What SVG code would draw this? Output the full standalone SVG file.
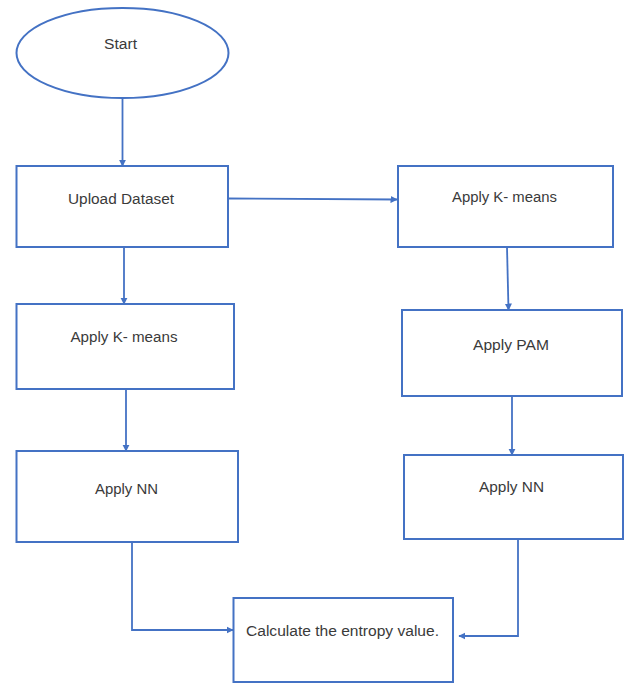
<svg xmlns="http://www.w3.org/2000/svg" width="626" height="683" viewBox="0 0 626 683">
<style>
.n{fill:#fff;stroke:#4472C4;stroke-width:2}
.t{font-family:"Liberation Sans",Arial,sans-serif;font-size:14px;fill:#3a3a3a;text-anchor:middle}
.c{fill:none;stroke:#4472C4;stroke-width:1.8}
</style>
<defs>
<marker id="a" viewBox="0 0 10 10" refX="9" refY="5" markerWidth="4" markerHeight="4" orient="auto" markerUnits="strokeWidth">
<path d="M0,0 L10,5 L0,10 z" fill="#4472C4"/>
</marker>
</defs>
<rect width="626" height="683" fill="#fff"/>
<g id="connectors">
<path class="c" d="M122.5,98 V166" marker-end="url(#a)"/>
<path class="c" d="M228,198.5 L397,199.5" marker-end="url(#a)"/>
<path class="c" d="M507,247 L508.5,310" marker-end="url(#a)"/>
<path class="c" d="M124,247 V304" marker-end="url(#a)"/>
<path class="c" d="M126,389 V451" marker-end="url(#a)"/>
<path class="c" d="M512,396 V455" marker-end="url(#a)"/>
<path class="c" d="M132,542 V630 H233" marker-end="url(#a)"/>
<path class="c" d="M518,539 V636 H459" marker-end="url(#a)"/>
</g>
<g id="start">
<ellipse class="n" cx="122.5" cy="53" rx="106" ry="45"/>
<text class="t" x="120.5" y="49" textLength="33" lengthAdjust="spacingAndGlyphs">Start</text>
</g>
<g id="upload">
<rect class="n" x="16.5" y="166" width="211.5" height="81"/>
<text class="t" x="121" y="204" textLength="106" lengthAdjust="spacingAndGlyphs">Upload Dataset</text>
</g>
<g id="kmeans-right">
<rect class="n" x="398" y="166" width="215" height="81"/>
<text class="t" x="504.5" y="202" textLength="105" lengthAdjust="spacingAndGlyphs">Apply K- means</text>
</g>
<g id="pam">
<rect class="n" x="402" y="310" width="220" height="86"/>
<text class="t" x="511" y="350" textLength="76" lengthAdjust="spacingAndGlyphs">Apply PAM</text>
</g>
<g id="nn-right">
<rect class="n" x="404" y="455" width="219" height="84"/>
<text class="t" x="511.5" y="492" textLength="65" lengthAdjust="spacingAndGlyphs">Apply NN</text>
</g>
<g id="kmeans-left">
<rect class="n" x="16.5" y="304" width="217.5" height="85"/>
<text class="t" x="124" y="342" textLength="107" lengthAdjust="spacingAndGlyphs">Apply K- means</text>
</g>
<g id="nn-left">
<rect class="n" x="16.5" y="451" width="221.5" height="91"/>
<text class="t" x="126.5" y="494" textLength="63" lengthAdjust="spacingAndGlyphs">Apply NN</text>
</g>
<g id="entropy">
<rect class="n" x="233.5" y="598" width="219.5" height="84"/>
<text class="t" x="342.5" y="636" textLength="193" lengthAdjust="spacingAndGlyphs">Calculate the entropy value.</text>
</g>
</svg>
